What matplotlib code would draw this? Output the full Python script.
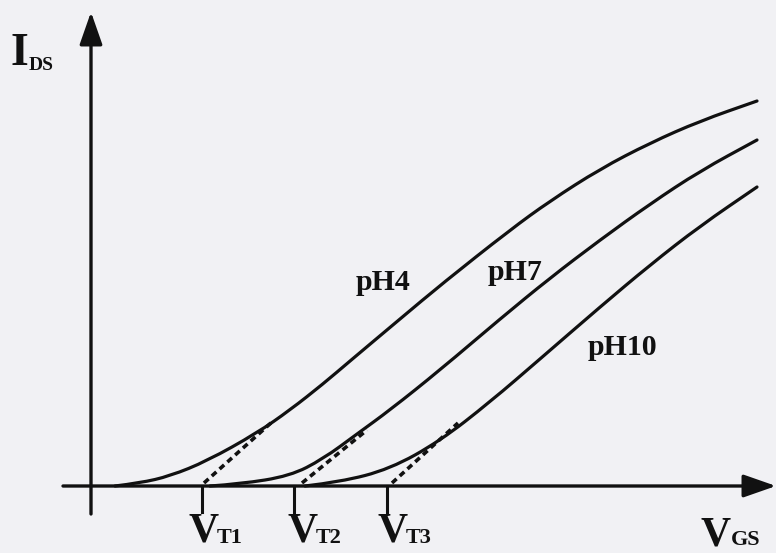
import matplotlib.pyplot as plt
from matplotlib.path import Path
from matplotlib.patches import PathPatch

# transfer curves I_DS(V_GS), arbitrary units
v_ph4 = [0.24, 0.49, 0.79, 1.16, 1.66, 1.99, 2.32, 2.59, 3.09, 3.52, 4.19, 4.59, 5.09, 5.59, 6.09, 6.66]
i_ph4 = [0.00, 0.03, 0.10, 0.25, 0.53, 0.76, 1.02, 1.25, 1.67, 2.03, 2.56, 2.85, 3.17, 3.43, 3.65, 3.85]
v_ph7 = [1.19, 1.49, 1.99, 2.32, 2.66, 2.99, 3.49, 4.09, 4.59, 5.09, 5.59, 6.09, 6.66]
i_ph7 = [0.00, 0.02, 0.10, 0.27, 0.52, 0.76, 1.16, 1.67, 2.08, 2.46, 2.82, 3.15, 3.46]
v_ph10 = [2.14, 2.49, 2.99, 3.49, 3.99, 4.49, 5.09, 5.59, 6.09, 6.66]
i_ph10 = [0.00, 0.04, 0.17, 0.45, 0.84, 1.27, 1.79, 2.21, 2.60, 2.99]
ph_labels = ["pH4", "pH7", "pH10"]

# threshold voltages and the linear extrapolation to them
vt = [1.11, 2.03, 2.96]
vt_names = ["T1", "T2", "T3"]
ext_v0 = [1.13, 2.11, 3.01]
ext_v1 = [1.81, 2.76, 3.67]
ext_i1 = [0.64, 0.56, 0.63]

ink = "#111111"
bg = "#f1f1f4"
big = dict(family="Liberation Serif", weight="bold", color=ink, size=30)
sub = dict(family="Liberation Serif", weight="bold", color=ink, size=16)


def smooth_path(xs, ys):
    # quadratic B-spline through the midpoints, so the sketch has no corners
    pts = list(zip(xs, ys))
    verts = [pts[0]]
    codes = [Path.MOVETO]
    for k in range(1, len(pts) - 1):
        mid = ((pts[k][0] + pts[k + 1][0]) / 2, (pts[k][1] + pts[k + 1][1]) / 2)
        verts += [pts[k], mid]
        codes += [Path.CURVE3, Path.CURVE3]
    verts.append(pts[-1])
    codes.append(Path.LINETO)
    return Path(verts, codes)


fig = plt.figure(figsize=(7.76, 5.53), dpi=100, facecolor=bg)
ax = fig.add_axes([0, 0, 1, 1])
ax.set_xlim(-0.91, 6.85)
ax.set_ylim(-0.67, 4.86)
ax.axis("off")

# axes with arrow heads
arrow = dict(arrowstyle="-|>,head_length=1.0,head_width=0.35", color=ink, lw=2.4,
             shrinkA=0, shrinkB=0, mutation_scale=20)
ax.annotate("", xy=(0, 4.74), xytext=(0, -0.28), arrowprops=arrow)
ax.annotate("", xy=(6.85, 0), xytext=(-0.28, 0), arrowprops=arrow)

for xs, ys in [(v_ph4, i_ph4), (v_ph7, i_ph7), (v_ph10, i_ph10)]:
    ax.add_patch(PathPatch(smooth_path(xs, ys), fill=False, ec=ink, lw=2.3,
                           capstyle="round"))

for k in range(3):
    ax.plot([ext_v0[k], ext_v1[k]], [0.03, ext_i1[k]], color=ink, lw=2.6,
            linestyle=(0, (1.7, 1.2)))
    ax.plot([vt[k], vt[k]], [0, -0.26], color=ink, lw=2.2)

# threshold labels
vt_left = [0.97, 1.96, 2.86]
for k in range(3):
    ax.text(vt_left[k], -0.56, "V", ha="left", va="baseline", **big)
    ax.text(vt_left[k] + 0.29, -0.57, vt_names[k], ha="left", va="baseline", **sub)

# axis titles
ax.text(6.09, -0.59, "V", ha="left", va="baseline", **big)
ax.text(6.40, -0.59, "GS", ha="left", va="baseline", **sub)
ax.text(-0.80, 4.21, "I", ha="left", va="baseline", family="Liberation Serif",
        weight="bold", color=ink, size=33)
ax.text(-0.62, 4.16, "DS", ha="left", va="baseline", family="Liberation Serif",
        weight="bold", color=ink, size=14)

# curve labels
for name, x, y in zip(ph_labels, [2.65, 3.97, 4.97], [1.96, 2.06, 1.31]):
    ax.text(x, y, name, ha="left", va="baseline", family="Liberation Serif",
            weight="bold", color=ink, size=21.5)

fig.savefig("out.png", dpi=100, facecolor=bg)
